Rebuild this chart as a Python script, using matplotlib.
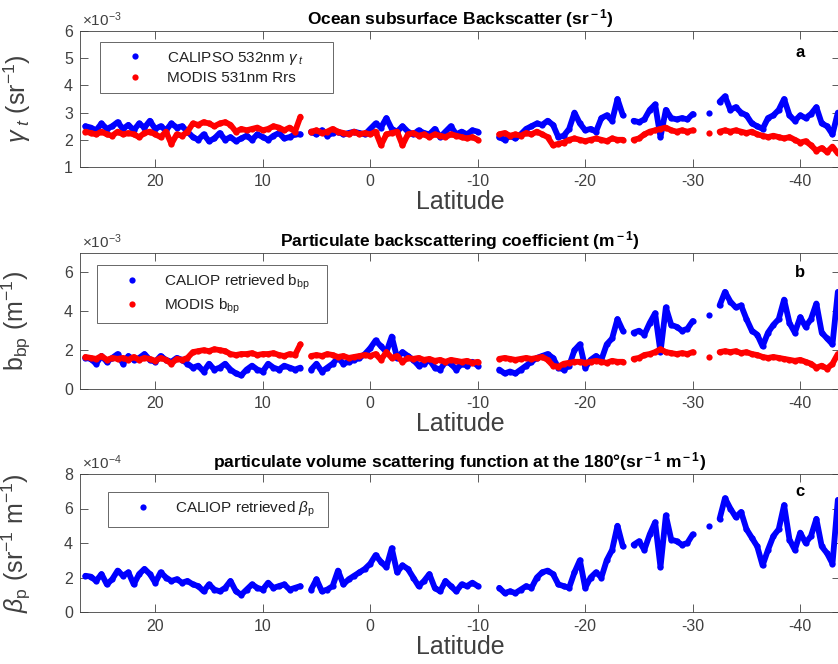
import numpy as np
import matplotlib
matplotlib.use("Agg")
import matplotlib.pyplot as plt

plt.rcParams['font.family'] = ['Liberation Sans', 'DejaVu Sans']
plt.rcParams['mathtext.fontset'] = 'custom'
plt.rcParams['mathtext.rm'] = 'Liberation Sans'
plt.rcParams['mathtext.it'] = 'Liberation Sans:italic'
plt.rcParams['mathtext.bf'] = 'Liberation Sans:bold'
plt.rcParams['axes.unicode_minus'] = False

nan = np.nan
# latitude sampling grid, 26.5 N down to 43.5 S every 0.5 deg
lat = np.arange(26.5, -43.6, -0.5)

# panel a, x1e-3 sr^-1
calipso_gamma = [2.5, 2.45, 2.35, 2.6, 2.4, 2.5, 2.65, 2.4, 2.55, 2.35,
                 2.6, 2.45, 2.7, 2.4, 2.5, 2.35, 2.6, 2.45, 2.5, 2.3,
                 2.1, 2.0, 2.2, 1.95, 2.05, 2.25, 2.0, 2.1, 1.95, 2.05,
                 2.15, 2.0, 2.2, 2.1, 2.0, 2.15, 2.25, 2.05, 2.1, 2.2,
                 2.2, nan, 2.3, 2.2, 2.35, 2.15, 2.25, 2.3, 2.2, 2.25,
                 2.3, 2.25, 2.2, 2.4, 2.6, 2.45, 2.8, 2.4, 2.3, 2.5,
                 2.3, 2.2, 2.35, 2.25, 2.2, 2.4, 2.1, 2.3, 2.5, 2.2,
                 2.3, 2.2, 2.35, 2.3, nan, nan, nan, 2.1, 2.0, 2.15,
                 2.05, 2.2, 2.4, 2.5, 2.6, 2.55, 2.7, 2.55, 2.1, 2.15,
                 2.4, 3.0, 2.6, 2.35, 2.4, 2.3, 2.8, 2.9, 2.7, 3.5,
                 2.9, nan, 2.7, 2.65, 2.75, 3.1, 3.3, 2.1, 3.1, 2.8,
                 2.75, 2.8, 2.75, 2.95, nan, nan, 3.0, nan, 3.4, 3.6,
                 3.1, 3.2, 3.0, 2.9, 2.6, 2.5, 2.4, 2.8, 2.9, 3.1,
                 3.5, 2.9, 2.7, 2.9, 2.8, 2.95, 3.2, 2.6, 2.5, 2.2,
                 3.0]
modis_rrs = [2.3, 2.25, 2.2, 2.3, 2.2, 2.15, 2.3, 2.2, 2.25, 2.2,
             2.1, 2.25, 2.3, 2.2, 2.1, 2.3, 1.85, 2.2, 2.15, 2.3,
             2.6, 2.55, 2.65, 2.6, 2.5, 2.6, 2.65, 2.55, 2.3, 2.4,
             2.35, 2.4, 2.45, 2.35, 2.4, 2.5, 2.45, 2.35, 2.45, 2.3,
             2.85, nan, 2.3, 2.35, 2.25, 2.3, 2.4, 2.3, 2.25, 2.2,
             2.3, 2.2, 2.25, 2.2, 2.3, 1.8, 2.2, 2.25, 2.3, 1.8,
             2.2, 2.25, 2.15, 2.2, 2.1, 2.2, 2.15, 2.1, 2.2, 2.15,
             2.1, 2.05, 2.1, 2.0, nan, nan, nan, 2.2, 2.25, 2.15,
             2.2, 2.15, 2.25, 2.2, 2.3, 2.2, 2.1, 1.8, 1.85, 1.9,
             2.0, 2.05, 2.0, 1.95, 2.0, 2.05, 2.0, 1.95, 2.05, 2.0,
             2.0, nan, 2.0, 2.05, 2.2, 2.3, 2.35, 2.4, 2.45, 2.35,
             2.3, 2.35, 2.3, 2.35, nan, nan, 2.25, nan, 2.3, 2.35,
             2.3, 2.35, 2.3, 2.25, 2.3, 2.2, 2.15, 2.1, 2.15, 2.1,
             2.05, 2.1, 2.0, 1.9, 1.95, 1.8, 1.6, 1.7, 1.55, 1.75,
             1.5]

# panel b, x1e-3 m^-1
caliop_bbp = [1.6, 1.55, 1.3, 1.7, 1.4, 1.6, 1.8, 1.3, 1.7, 1.5,
              1.6, 1.8, 1.5, 1.4, 1.7, 1.5, 1.4, 1.6, 1.5, 1.3,
              1.1, 1.2, 0.9, 1.3, 1.0, 1.1, 1.3, 1.0, 0.8, 0.7,
              1.0, 1.2, 1.0, 0.9, 1.3, 1.1, 1.0, 1.2, 1.1, 1.0,
              1.1, nan, 1.0, 1.3, 0.9, 1.1, 1.3, 1.6, 1.3, 1.4,
              1.5, 1.6, 1.8, 2.1, 2.5, 2.2, 1.9, 2.7, 1.6, 1.9,
              1.7, 1.5, 1.2, 1.3, 1.5, 1.1, 1.0, 1.4, 1.3, 1.0,
              1.3, 1.2, 1.4, 1.2, nan, nan, nan, 1.0, 0.8, 0.9,
              0.8, 1.0, 1.2, 1.4, 1.6, 1.7, 1.8, 1.6, 1.1, 1.0,
              1.2, 2.0, 2.3, 1.1, 1.5, 1.7, 1.5, 2.3, 2.6, 3.6,
              3.0, nan, 2.9, 3.0, 2.8, 3.4, 3.9, 1.9, 4.2, 3.3,
              3.2, 3.0, 3.1, 3.5, nan, nan, 3.8, nan, 4.3, 5.0,
              4.5, 4.2, 4.3, 3.6, 3.0, 2.8, 2.2, 2.9, 3.3, 3.6,
              4.6, 3.4, 2.9, 3.7, 3.2, 3.6, 4.4, 2.9, 2.6, 2.3,
              5.0]
modis_bbp = [1.65, 1.6, 1.55, 1.7, 1.5, 1.6, 1.55, 1.6, 1.5, 1.65,
             1.5, 1.6, 1.55, 1.45, 1.6, 1.5, 1.3, 1.55, 1.5, 1.6,
             1.9, 1.95, 2.0, 1.95, 2.05, 2.0, 1.95, 1.8, 1.75, 1.8,
             1.8, 1.85, 1.75, 1.8, 1.8, 1.85, 1.75, 1.7, 1.8, 1.75,
             2.3, nan, 1.7, 1.75, 1.7, 1.8, 1.75, 1.65, 1.7, 1.6,
             1.65, 1.7, 1.75, 1.7, 1.8, 1.5, 1.9, 1.6, 1.7, 1.4,
             1.6, 1.55, 1.6, 1.5, 1.55, 1.45, 1.5, 1.4, 1.5, 1.45,
             1.4, 1.45, 1.35, 1.4, nan, nan, nan, 1.55, 1.6, 1.55,
             1.5, 1.55, 1.6, 1.55, 1.6, 1.65, 1.5, 1.2, 1.15, 1.3,
             1.35, 1.4, 1.4, 1.35, 1.4, 1.45, 1.4, 1.35, 1.45, 1.4,
             1.4, nan, 1.55, 1.6, 1.75, 1.8, 1.9, 2.05, 1.9, 1.85,
             1.8, 1.85, 1.8, 1.9, nan, nan, 1.65, nan, 1.9, 1.95,
             1.9, 1.95, 1.85, 1.9, 1.8, 1.75, 1.65, 1.6, 1.65, 1.6,
             1.55, 1.5, 1.45, 1.5, 1.4, 1.3, 1.1, 1.2, 1.05, 1.3,
             1.8]

# panel c, x1e-4 sr^-1 m^-1
caliop_beta = [2.1, 2.05, 1.8, 2.2, 1.6, 1.9, 2.4, 2.1, 2.3, 1.6,
               2.2, 2.5, 2.2, 1.7, 2.3, 2.0, 1.8, 1.9, 1.7, 1.8,
               1.6, 1.5, 1.2, 1.6, 1.3, 1.2, 1.4, 1.8, 1.2, 1.0,
               1.3, 1.6, 1.4, 1.3, 1.7, 1.4, 1.5, 1.6, 1.3, 1.4,
               1.5, nan, 1.3, 1.9, 1.2, 1.3, 1.5, 2.4, 1.6, 1.9,
               2.1, 2.3, 2.5, 2.8, 3.3, 2.9, 2.6, 3.7, 2.3, 2.7,
               2.5, 2.0, 1.5, 1.8, 2.2, 1.4, 1.2, 1.8, 1.5, 1.2,
               1.6, 1.5, 1.7, 1.5, nan, nan, nan, 1.4, 1.1, 1.2,
               1.1, 1.3, 1.5, 1.4, 2.0, 2.3, 2.4, 2.2, 1.6, 1.5,
               1.4, 2.3, 3.0, 1.4, 2.0, 2.3, 2.0, 3.0, 3.6, 5.0,
               3.8, nan, 3.9, 4.1, 3.6, 4.5, 5.2, 2.6, 5.6, 4.2,
               4.1, 3.9, 4.0, 4.5, nan, nan, 5.0, nan, 5.4, 6.6,
               6.0, 5.5, 5.8, 4.8, 4.3, 3.8, 2.7, 3.6, 4.4, 4.8,
               6.2, 4.2, 3.6, 4.6, 4.0, 4.4, 5.4, 3.8, 3.4, 2.8,
               6.5]

xticks = [20, 10, 0, -10, -20, -30, -40]
grey = '#404040'

fig = plt.figure(figsize=(8.38, 6.64), dpi=100)

W = 760 / 838
ax_a = fig.add_axes([80 / 838, 1 - 167 / 664, W, 136 / 664])
ax_b = fig.add_axes([80 / 838, 1 - 389 / 664, W, 136 / 664])
ax_c = fig.add_axes([80 / 838, 1 - 612 / 664, W, 138 / 664])


def draw(ax, y, color, label):
    y = np.array(y)
    ax.plot(lat, y, '-', color=color, lw=4.2, solid_capstyle='round',
            solid_joinstyle='round')
    ax.plot(lat, y, 'o', color=color, ms=4.5, mec='none', label=label)


def style(ax, ylim, yticks, mult, title, ylabel, letter, ly):
    ax.set_xlim(27, -43.7)
    ax.set_ylim(*ylim)
    ax.set_xticks(xticks)
    ax.set_yticks(yticks)
    ax.tick_params(direction='in', length=5.5, width=0.6, colors=grey,
                   labelsize=11.5, top=True, right=True, pad=5)
    for s in ax.spines.values():
        s.set_color(grey)
        s.set_linewidth(0.6)
    ax.set_title(title, fontsize=12.5, fontweight='bold', pad=5)
    ax.set_xlabel('Latitude', fontsize=18, color=grey, labelpad=1)
    ax.set_ylabel(ylabel, fontsize=18, color=grey)
    ax.yaxis.set_label_coords(-0.062, 0.5)
    ax.text(0.003, 1.012, mult, transform=ax.transAxes, fontsize=11,
            color=grey, va='bottom', ha='left')
    ax.text(0.947, ly, letter, transform=ax.transAxes, fontsize=12,
            fontweight='bold', ha='center', va='center')


def legend(ax, x, y):
    lg = ax.legend(loc='upper left', bbox_to_anchor=(x, y), fontsize=11,
                   frameon=True, fancybox=False, borderpad=0.5,
                   handlelength=3.6, handletextpad=0.3, labelspacing=0.3,
                   borderaxespad=0)
    lg.get_frame().set_edgecolor(grey)
    lg.get_frame().set_linewidth(0.7)
    for t in lg.get_texts():
        t.set_color('#222222')


draw(ax_a, calipso_gamma, '#0000ff', r'CALIPSO 532nm $\gamma_{\ t}$      ')
draw(ax_a, modis_rrs, '#ff0000', 'MODIS 531nm Rrs')
style(ax_a, (1, 6), [1, 2, 3, 4, 5, 6], r'$\times$10$^{-3}$',
      r'Ocean subsurface Backscatter (sr$^{\bf -1}$)',
      r'$\gamma_{\ t}$ (sr$^{-1}$)', 'a', 0.84)
legend(ax_a, 0.026, 0.919)

draw(ax_b, caliop_bbp, '#0000ff', r'CALIOP retrieved b$_{\rm bp}$   ')
draw(ax_b, modis_bbp, '#ff0000', r'MODIS b$_{\rm bp}$')
style(ax_b, (0, 7), [0, 2, 4, 6], r'$\times$10$^{-3}$',
      r'Particulate backscattering coefficient (m$^{\bf -1}$)',
      r'b$_{\rm bp}$ (m$^{-1}$)', 'b', 0.853)
legend(ax_b, 0.022, 0.912)

draw(ax_c, caliop_beta, '#0000ff', r'CALIOP retrieved $\beta_{\rm p}$  ')
style(ax_c, (0, 8), [0, 2, 4, 6, 8], r'$\times$10$^{-4}$',
      r'particulate volume scattering function at the 180°(sr$^{\bf -1}$ m$^{\bf -1}$)',
      r'$\beta_{\rm p}$ (sr$^{-1}$ m$^{-1}$)', 'c', 0.87)
legend(ax_c, 0.037, 0.87)

fig.savefig('out.png', dpi=100)
